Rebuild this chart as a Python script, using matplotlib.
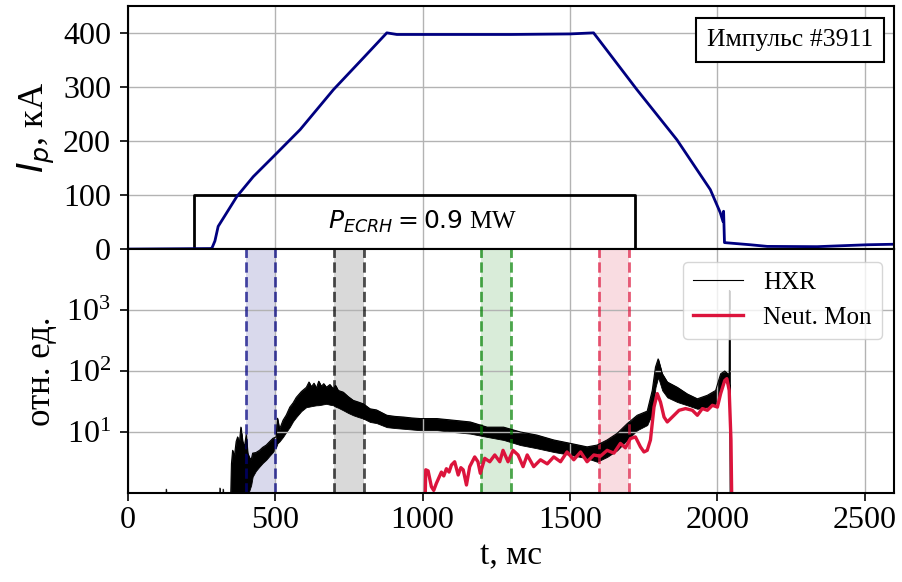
import matplotlib
matplotlib.use("Agg")
import matplotlib.pyplot as plt
from matplotlib.ticker import NullLocator

plt.rcParams['font.family'] = ['Liberation Serif', 'DejaVu Serif']
plt.rcParams['mathtext.fontset'] = 'dejavusans'

# ток плазмы, кА
ip_t = [0, 280, 286, 296, 307, 330, 370, 426, 494, 585, 698, 800, 879, 913, 1100,
        1300, 1500, 1580, 1597, 1727, 1863, 1976, 2010, 2019, 2021, 2024, 2112,
        2169, 2338, 2508, 2600]
ip = [0, 1, 2, 15, 42, 62, 97, 134, 171, 221, 295, 354, 400, 397, 397,
      397, 398, 400, 388, 295, 202, 110, 67, 51, 70, 12, 8,
      5, 4.5, 8, 9]

# ЭЦР нагрев
ecrh_t = [0, 225, 225, 1722, 1722, 2600]
ecrh = [0, 0, 100, 100, 0, 0]

# HXR: нижняя и верхняя граница шумовой полосы
hxr_t = [0, 128, 131, 134, 310, 313, 316, 321, 324, 327, 345, 352, 356, 362, 368,
         373, 378, 384, 390, 396, 402, 407, 413, 419, 424, 435, 447, 458, 470,
         482, 493, 504, 508, 515, 527, 538, 550, 561, 572, 589, 606, 615, 623,
         632, 640, 648, 657, 665, 674, 686, 697, 705, 714, 731, 748, 765, 782,
         799, 822, 844, 879, 907, 935, 963, 992, 1049, 1105, 1162, 1219, 1275,
         1332, 1388, 1445, 1502, 1558, 1592, 1626, 1660, 1694, 1728, 1762, 1779,
         1790, 1799, 1813, 1830, 1864, 1898, 1932, 1966, 1994, 2011, 2025, 2035,
         2040, 2041, 2044, 2600]
hxr_lo = [0.1, 0.1, 0.1, 0.1, 0.1, 0.1, 0.1, 0.1, 0.1, 0.1, 0.1, 0.3, 0.5, 0.6, 0.8,
          1.0, 0.8, 1.0, 0.9, 0.8, 0.6, 0.9, 1.1, 1.35, 1.85, 2.3, 2.7, 3.1, 3.5,
          4.1, 4.7, 5.7, 6.5, 7.0, 8.3, 10, 12.1, 15, 17.6, 22, 25.6, 26, 26.5,
          27, 27.4, 27.5, 28, 28.5, 29, 28, 27.4, 26, 25, 22.7, 20.5, 18.8, 17.6,
          16.6, 14.6, 14, 12, 11.6, 11.3, 11, 10.7, 10.7, 10, 9.4, 8.3, 7.4,
          6.1, 5.4, 4.7, 4.2, 3.7, 3.25, 3.9, 5.0, 7.4, 10.7, 13, 20,
          54, 79, 48, 37, 31, 27.4, 24, 25.6, 29, 48, 70, 60,
          60, 60, 0.1, 0.1]
hxr_hi = [0.1, 0.1, 1.15, 0.1, 0.1, 1.2, 0.1, 0.1, 1.15, 0.1, 0.1, 3, 5, 4, 7,
          8.3, 6, 12, 7, 5.7, 9, 4.5, 3.8, 3.5, 4.5, 4.6, 5.0, 5.6, 6.1,
          7.0, 7.9, 8.3, 16.8, 11, 15.6, 19, 25.6, 30, 37, 46, 54, 66, 55,
          63, 52, 68, 56, 62, 54, 60, 51, 58, 48, 45, 38, 33, 31,
          29, 24, 23, 18.8, 18, 17.6, 17, 16.6, 16.6, 15.6, 14.6, 12, 12,
          10, 8.9, 7.4, 6.5, 5.7, 6.1, 7.4, 9.5, 13.7, 18.8, 22, 48,
          116, 158, 90, 66, 54, 42, 35, 40, 48, 90, 100, 90,
          90, 2100, 0.1, 0.1]

# нейтронный монитор
nm_t = [1005, 1011, 1019, 1030, 1038, 1047, 1056, 1064, 1072, 1081, 1090, 1098,
        1109, 1121, 1130, 1138, 1149, 1160, 1177, 1188, 1196, 1211, 1228, 1245,
        1262, 1273, 1290, 1307, 1324, 1341, 1355, 1377, 1400, 1423, 1445, 1468,
        1490, 1513, 1536, 1558, 1581, 1603, 1626, 1649, 1671, 1688, 1705, 1722,
        1739, 1751, 1762, 1773, 1785, 1796, 1807, 1819, 1830, 1847, 1870, 1892,
        1915, 1932, 1949, 1966, 1983, 2000, 2011, 2025, 2032, 2040, 2046, 2051]
nm = [0.1, 2.4, 2.3, 1.27, 1.1, 1.44, 1.8, 2.2, 1.9, 2.5, 2.2, 2.87,
      3.25, 1.97, 2.6, 2.4, 1.35, 2.7, 3.9, 3.25, 2.1, 3.7, 3.25, 4.2,
      3.25, 5.0, 3.25, 5.0, 4.2, 2.7, 4.2, 2.7, 3.5, 3.0, 3.9, 3.25,
      4.7, 3.5, 4.7, 3.25, 4.2, 4.0, 5.0, 4.5, 6.5, 5.5, 7.8, 8.3,
      5.7, 4.7, 5.0, 7.4, 25.6, 42.6, 31, 17.6, 14.6, 17.6, 22.7, 24.2,
      22.7, 18.8, 24.2, 22.7, 27.4, 25.6, 42.6, 70, 75, 48, 7.4, 0.1]

# интервалы усреднения
bands = [(400, 500), (700, 800), (1200, 1300), (1600, 1700)]
band_colors = ['navy', 'black', 'green', 'crimson']

fig = plt.figure(figsize=(9.02, 5.82), dpi=100)
ax1 = fig.add_axes([0.1415, 0.572, 0.850, 0.418])
ax2 = fig.add_axes([0.1415, 0.153, 0.850, 0.419], sharex=ax1)

ax1.plot(ecrh_t, ecrh, color='k', lw=2)
ax1.plot(ip_t, ip, color='navy', lw=2)
ax1.text(1000, 50, r'$P_{ECRH} = 0.9$ MW', ha='center', va='center', fontsize=18)
ax1.text(0.972, 0.905, 'Импульс #3911', transform=ax1.transAxes, ha='right', va='top',
         fontsize=18.5, bbox=dict(boxstyle='square,pad=0.42', fc='w', ec='k', lw=1.5))
ax1.set_ylim(0, 450)
ax1.set_yticks([0, 100, 200, 300, 400])
ax1.set_ylabel(r'$I_p$, кА', fontsize=26, labelpad=4)
ax1.tick_params(labelbottom=False)

for (a, b), c in zip(bands, band_colors):
    ax2.axvspan(a, b, color=c, alpha=0.15, lw=0)
    ax2.axvline(a, color=c, ls='--', lw=2, alpha=0.7)
    ax2.axvline(b, color=c, ls='--', lw=2, alpha=0.7)

ax2.fill_between(hxr_t, hxr_lo, hxr_hi, color='k', lw=0.6)
ax2.plot(hxr_t, hxr_hi, color='k', lw=0.8, label='HXR')
ax2.plot(nm_t, nm, color='crimson', lw=2.4, label='Neut. Mon')
ax2.set_yscale('log')
ax2.set_ylim(1, 1e4)
ax2.set_yticks([10, 100, 1000])
ax2.yaxis.set_minor_locator(NullLocator())
ax2.set_ylabel('отн. ед.', fontsize=25, labelpad=6)
ax2.set_xlabel('t, мс', fontsize=24)
ax2.set_xlim(0, 2600)
ax2.set_xticks([0, 500, 1000, 1500, 2000, 2500])
ax2.legend(loc='upper right', fontsize=18, framealpha=0.8)

for ax in (ax1, ax2):
    ax.grid(True, color='0.7', lw=1)
    ax.tick_params(labelsize=23, length=6, width=1.2)
    ax.tick_params(axis='y', pad=6)
    for s in ax.spines.values():
        s.set_linewidth(1.5)

fig.savefig('out.png', dpi=100)
